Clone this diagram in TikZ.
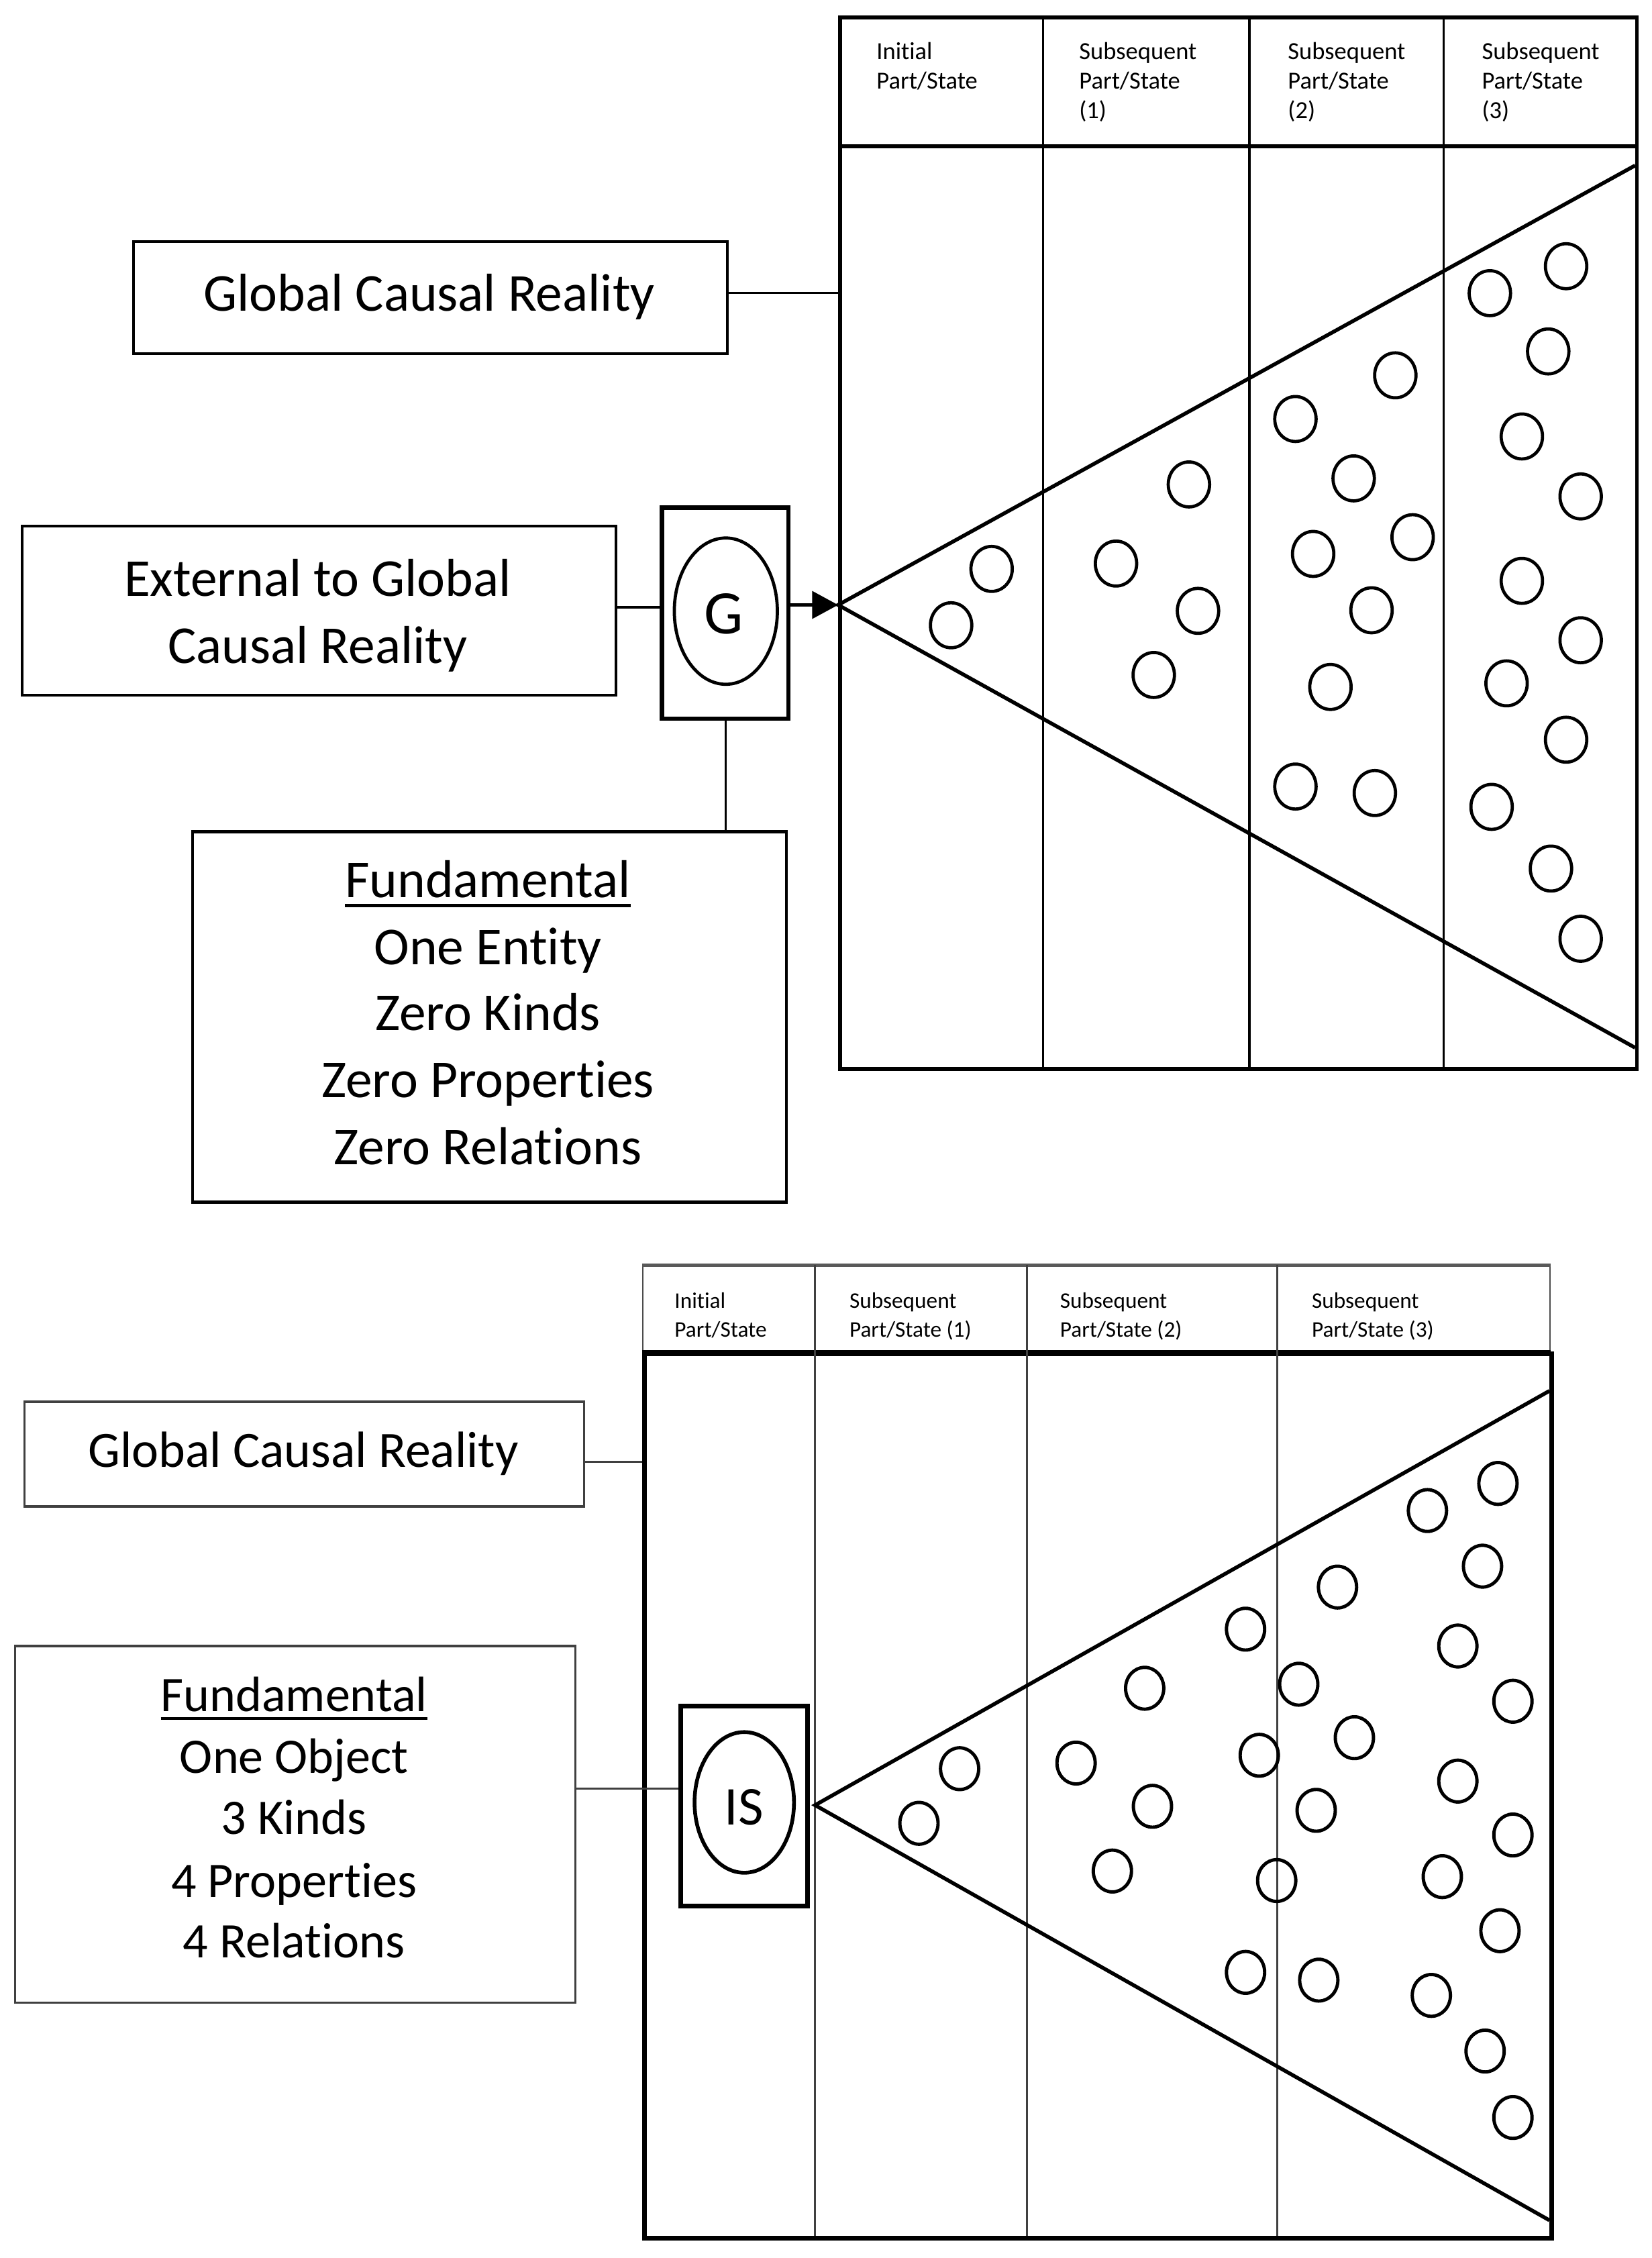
\documentclass[tikz,border=0pt]{standalone}
\usepackage{fontspec}
\setmainfont{Carlito}[Ligatures={CommonOff,ContextualOff}]
\usetikzlibrary{shapes.geometric,arrows.meta}
\newcommand\ulword[1]{\setbox0=\hbox{#1}\rlap{\rule[-0.175em]{\wd0}{0.06em}}\box0}
\begin{document}
\begin{tikzpicture}[x=1pt,y=-1pt,
  txt/.style={anchor=base, inner sep=0pt},
  hdrA/.style={anchor=base west, inner sep=0pt, font=\fontsize{17}{20}\selectfont},
  hdrB/.style={anchor=base west, inner sep=0pt, font=\fontsize{15.5}{19}\selectfont},
  bigA/.style={font=\fontsize{37}{44}\selectfont},
  bigB/.style={font=\fontsize{35.3}{42}\selectfont},
  bigC/.style={font=\fontsize{34.5}{42}\selectfont},
  tbox/.style={draw, line width=1.9pt, inner sep=0pt, anchor=north west},
  tboxB/.style={draw=black!75, line width=1.6pt, inner sep=0pt, anchor=north west},
  dotA/.style={draw, ellipse, line width=2.2pt, minimum width=28.7pt, minimum height=31.2pt, inner sep=0pt},
  dotB/.style={draw, ellipse, line width=2.3pt, minimum width=26.5pt, minimum height=29pt, inner sep=0pt},
  link/.style={line width=1.6pt},
  linkB/.style={line width=1.4pt, black!75},
  colA/.style={line width=1.7pt},
  colB/.style={line width=1.4pt, black!75},
  wedge/.style={line width=2.6pt, line join=miter},
]
\fill[white] (0,0) rectangle (1146.2,1566.6);
\useasboundingbox (0,0) rectangle (1146.2,1566.6);

% helper coordinates
\coordinate (ly1) at (0,203.2);
\coordinate (ly2) at (0,421.4);
\coordinate (ly3) at (0,1014.4);
\coordinate (ly4) at (0,1240.9);
\coordinate (lx1) at (503.4,0);

% ================= TOP DIAGRAM =================
\node[draw, line width=2.6pt, inner sep=0pt, anchor=north west,
      minimum width=553pt, minimum height=729.5pt] (t1) at (581.5,10.7) {};
\draw[line width=2.6pt] (581.5,101.6) -- (1134.5,101.6);
\foreach \x in {723.7,867,1001.7} \draw[colA] (\x,10.7) -- (\x,740.2);

\node[hdrA] (h1a) at (608,41) {Initial};
\node[hdrA] (h1b) at (608,61.5) {Part/State};
\node[hdrA] (h2a) at (748.6,41) {Subsequent};
\node[hdrA] (h2b) at (748.6,61.5) {Part/State};
\node[hdrA] (h2c) at (748.6,82) {(1)};
\node[hdrA] (h3a) at (893.4,41) {Subsequent};
\node[hdrA] (h3b) at (893.4,61.5) {Part/State};
\node[hdrA] (h3c) at (893.4,82) {(2)};
\node[hdrA] (h4a) at (1028,41) {Subsequent};
\node[hdrA] (h4b) at (1028,61.5) {Part/State};
\node[hdrA] (h4c) at (1028,82) {(3)};

\coordinate (apex1) at (581.5,419.7);
\coordinate (tr1) at (1134.5,114.8);
\coordinate (br1) at (1134.5,726.9);
\draw[wedge] (tr1) -- (apex1) -- (br1);

\foreach \p [count=\i] in {
  (688.0,394.7),(659.9,433.8),
  (824.9,336.1),(774.3,391.0),(831.2,423.8),(800.5,468.3),
  (968.1,260.4),(898.8,290.7),(939.2,331.9),(911.1,384.3),(980.1,372.7),
  (951.6,423.4),(923.1,476.6),(898.8,545.7),(953.9,550.2),
  (1086.6,184.7),(1033.7,203.4),(1074.2,243.8),(1055.9,302.8),(1096.7,344.4),
  (1055.9,403.0),(1096.7,444.2),(1045.3,474.1),(1086.6,513.2),(1034.9,559.8),
  (1076.1,602.6),(1096.7,651.3)}
  \node[dotA] (a\i) at \p {};

\node[tbox, minimum width=412pt, minimum height=78pt] (gcr1) at (91.8,166.6) {};
\node[txt,bigA] (gcr1t) at (297.8,216) {Global Causal Reality};

\node[tbox, minimum width=412.2pt, minimum height=117.5pt] (ext) at (14.3,364) {};
\node[txt,bigA] (ext1) at (220.4,413.8) {External to Global};
\node[txt,bigA] (ext2) at (220.4,460.1) {Causal Reality};

\node[draw, line width=3.2pt, inner sep=0pt, anchor=north west,
      minimum width=87.8pt, minimum height=146.5pt] (gbox) at (457.6,350.5) {};
\node[draw, ellipse, line width=2.2pt, inner sep=0pt,
      minimum width=71.5pt, minimum height=101.5pt] (gell) at (503.6,424) {};
\node[txt, font=\fontsize{43}{50}\selectfont] (gt) at (502,439.5) {G};

\node[tbox, minimum width=412pt, minimum height=257pt] (fund1) at (132.6,576.1) {};
\node[txt,bigA] (f1a) at (338.5,622.8) {\ulword{Fundamental}};
\node[txt,bigA] (f1b) at (338.5,669.3) {One Entity};
\node[txt,bigA] (f1c) at (338.5,714.9) {Zero Kinds};
\node[txt,bigA] (f1d) at (338.5,761.2) {Zero Properties};
\node[txt,bigA] (f1e) at (338.5,808) {Zero Relations};

\draw[link] (gcr1.east |- ly1) -- (t1.west |- ly1);
\draw[link] (ext.east |- ly2) -- (gbox.west |- ly2);
\draw[line width=1.9pt, -{Triangle[length=18pt,width=19pt]}] (gbox.east |- apex1) -- (apex1);
\draw[link] (gbox.south -| lx1) -- (fund1.north -| lx1);

% ================= BOTTOM DIAGRAM =================
\node[draw=black!70, line width=1.1pt, inner sep=0pt, anchor=north west,
      minimum width=629.5pt, minimum height=60pt] (hd2) at (445.5,877.6) {};
\draw[line width=2.4pt, black!65] (hd2.north west) -- (hd2.north east);
\node[draw, line width=3.3pt, inner sep=0pt, anchor=north west,
      minimum width=629.5pt, minimum height=613.4pt] (t2) at (445.5,937.6) {};
\draw[line width=3.6pt] (hd2.south west) -- (hd2.south east);
\foreach \x in {565.5,712.5,886} \draw[colB] (\x,877.6) -- (\x,1551);

\node[hdrB] (k1a) at (467.9,907.4) {Initial};
\node[hdrB] (k1b) at (467.9,927.6) {Part/State};
\node[hdrB] (k2a) at (589.2,907.4) {Subsequent};
\node[hdrB] (k2b) at (589.2,927.6) {Part/State (1)};
\node[hdrB] (k3a) at (735.3,907.4) {Subsequent};
\node[hdrB] (k3b) at (735.3,927.6) {Part/State (2)};
\node[hdrB] (k4a) at (910,907.4) {Subsequent};
\node[hdrB] (k4b) at (910,927.6) {Part/State (3)};

\coordinate (apex2) at (565.5,1252.4);
\coordinate (tr2) at (1075,965);
\coordinate (br2) at (1075,1540.4);
\draw[wedge] (tr2) -- (apex2) -- (br2);

\foreach \p [count=\i] in {
  (665.8,1227.1),(637.6,1265.0),
  (794.2,1171.3),(746.6,1223.2),(799.6,1253.2),(771.8,1298.1),
  (864.2,1130.3),(928.0,1101.1),(901.1,1168.5),(939.7,1205.6),(873.7,1217.8),
  (913.2,1256.0),(885.8,1304.7),(864.2,1368.4),(915.0,1373.8),
  (990.4,1048.0),(1039.3,1029.2),(1028.6,1086.6),(1011.5,1142.0),(1049.7,1180.3),
  (1011.5,1235.7),(1049.7,1273.1),(1000.7,1302.0),(1040.7,1339.5),(993.1,1384.4),
  (1030.4,1423.0),(1049.7,1469.1)}
  \node[dotB] (b\i) at \p {};

\node[draw, line width=3.2pt, inner sep=0pt, anchor=north west,
      minimum width=88pt, minimum height=138.6pt] (isbox) at (470.6,1182.2) {};
\node[draw, ellipse, line width=2.6pt, inner sep=0pt,
      minimum width=69pt, minimum height=97.6pt] (isell) at (516.4,1250.5) {};
\node[txt, font=\fontsize{38}{44}\selectfont] (ist) at (516.3,1266) {IS};

\node[tboxB, minimum width=388.1pt, minimum height=72.5pt] (gcr2) at (16.3,971.8) {};
\node[txt,bigB] (gcr2t) at (210.5,1017.8) {Global Causal Reality};

\node[tboxB, minimum width=388.7pt, minimum height=247.5pt] (fund2) at (9.6,1141.2) {};
\node[txt,bigC] (f2a) at (204,1187.2) {\ulword{Fundamental}};
\node[txt,bigC] (f2b) at (204,1230.4) {One Object};
\node[txt,bigC] (f2c) at (204,1272.6) {3 Kinds};
\node[txt,bigC] (f2d) at (204,1316.2) {4 Properties};
\node[txt,bigC] (f2e) at (204,1358.4) {4 Relations};

\draw[linkB] (gcr2.east |- ly3) -- (t2.west |- ly3);
\draw[linkB] (fund2.east |- ly4) -- (isbox.west |- ly4);
\end{tikzpicture}
\end{document}
